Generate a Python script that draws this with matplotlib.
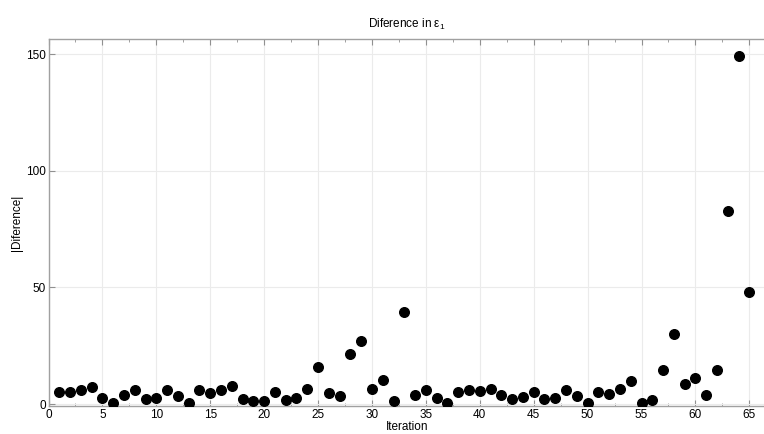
import matplotlib.pyplot as plt
import numpy as np
from matplotlib.ticker import MultipleLocator

plt.rcParams["font.family"] = ["Liberation Sans", "DejaVu Sans"]

# iteration number and |difference|
iteration = np.arange(1, 66)
difference = [
    5.4, 5.4, 6.0, 7.4, 2.7, 0.7, 3.9, 6.0, 2.1, 2.7,
    6.0, 3.4, 0.6, 5.9, 4.7, 6.0, 7.7, 2.4, 1.4, 1.4,
    5.1, 1.6, 2.7, 6.7, 15.9, 4.6, 3.7, 21.7, 27.0, 6.7,
    10.3, 1.3, 39.4, 3.9, 6.0, 2.7, 0.3, 5.4, 5.9, 5.7,
    6.6, 4.0, 2.3, 3.1, 5.2, 2.4, 2.7, 6.0, 3.7, 0.3,
    5.3, 4.4, 6.4, 10.1, 0.7, 1.6, 14.6, 29.9, 8.7, 11.4,
    4.0, 14.7, 82.9, 149.1, 47.9,
]

fig = plt.figure(figsize=(7.64, 4.34), dpi=100)
ax = fig.add_axes([48.5 / 764, 28 / 434, 717 / 764, 367 / 434])

ax.scatter(iteration, difference, s=48, color="black", zorder=3)

ax.set_xlim(0, 66.5)
ax.set_ylim(-0.8, 156.5)
ax.xaxis.set_major_locator(MultipleLocator(5))
ax.xaxis.set_minor_locator(MultipleLocator(2.5))
ax.set_yticks([0, 50, 100, 150])

ax.grid(True, color="#ebebeb", linewidth=0.8)
ax.set_axisbelow(True)
for sp in ax.spines.values():
    sp.set_color("#a0a0a0")
    sp.set_linewidth(1.0)

ax.tick_params(axis="both", which="both", direction="in", top=True,
               color="#909090", labelsize=8.5, pad=2)
ax.tick_params(which="major", length=4)
ax.tick_params(which="minor", length=2.5)
ax.tick_params(axis="y", right=False)

ax.set_title(r"Diference in $\mathregular{\varepsilon_1}$", fontsize=8.5, pad=8)
ax.set_xlabel("Iteration", fontsize=8.5, labelpad=0)
ax.set_ylabel("|Diference|", fontsize=8.5, labelpad=2)

fig.savefig("out.png", dpi=100)
